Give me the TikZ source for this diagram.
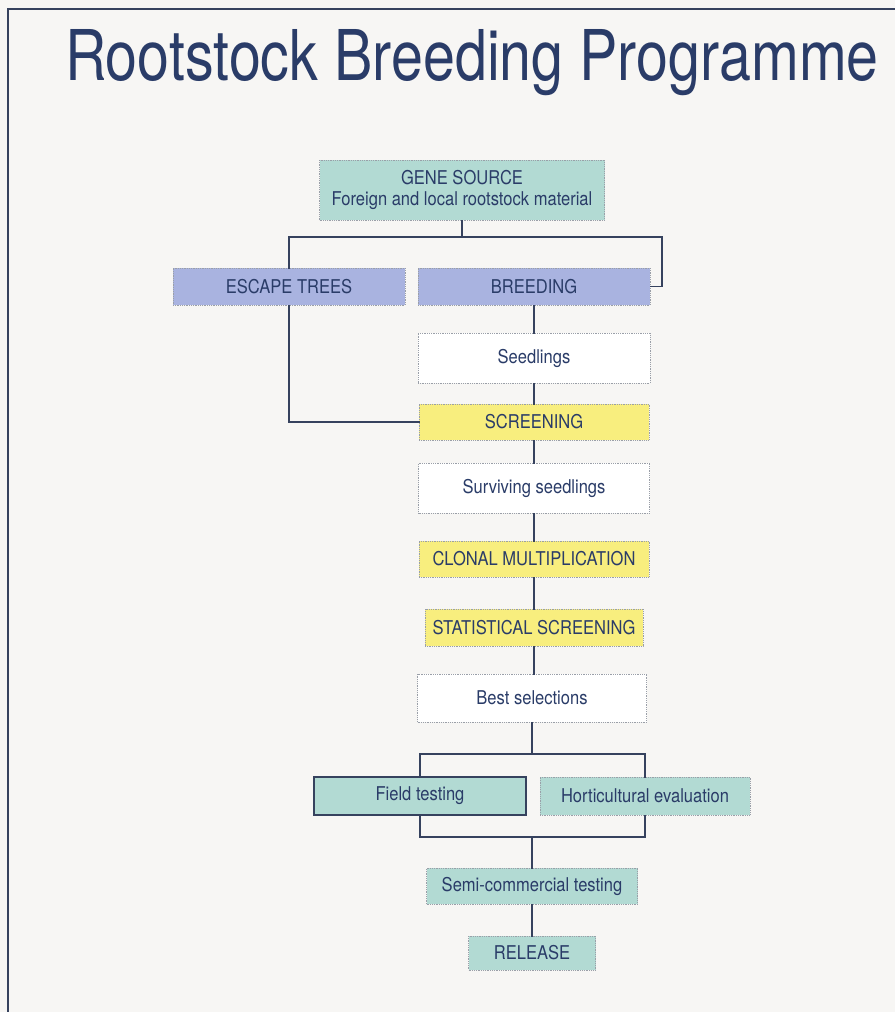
\documentclass[tikz,border=0pt]{standalone}
\usepackage{fontspec}
\setmainfont{TeX Gyre Heros}
\newfontfamily\boxfont[FakeStretch=0.87]{TeX Gyre Heros}
\newfontfamily\titlefont[FakeStretch=0.82]{TeX Gyre Heros}
\definecolor{ink}{HTML}{2A3C68}
\definecolor{wire}{HTML}{36425E}
\definecolor{paper}{HTML}{F7F6F4}
\definecolor{teal}{HTML}{B2DAD3}
\definecolor{lilac}{HTML}{A9B3E0}
\definecolor{lemon}{HTML}{F8EE7E}
\definecolor{edge}{HTML}{9A9FA8}
\tikzset{
  box/.style={draw=edge, densely dotted, line width=0.8pt, text=ink,
    inner sep=0pt, font=\boxfont\fontsize{19}{21}\selectfont, align=center},
  link/.style={draw=wire, line width=1.8pt, line cap=rect}
}
\begin{document}
\begin{tikzpicture}[x=1pt,y=-1pt]
  \useasboundingbox (0,0) rectangle (895,1012);
  \fill[paper] (0,0) rectangle (895,1012);
  % frame
  \draw[wire, line width=2pt] (8,1012) -- (8,9) -- (895,9);
  \node[anchor=base, text=ink, font=\titlefont\fontsize{70}{80}\selectfont] (title) at (472,80)
    {Rootstock Breeding Programme};
  % boxes
  \node[box, fill=teal, minimum width=285, minimum height=60] (gene) at (462,190)
    {GENE SOURCE\\Foreign and local rootstock material};
  \node[box, fill=lilac, minimum width=232, minimum height=37] (escape) at (289,286.5) {ESCAPE TREES};
  \node[box, fill=lilac, minimum width=232, minimum height=37] (breed) at (534,286.5) {BREEDING};
  \node[box, fill=white, minimum width=232, minimum height=50] (seed) at (534,358) {Seedlings};
  \node[box, fill=lemon, minimum width=230, minimum height=36] (screen) at (534,422) {SCREENING};
  \node[box, fill=white, minimum width=231, minimum height=50] (surv) at (534,488) {Surviving seedlings};
  \node[box, fill=lemon, minimum width=230, minimum height=36] (clonal) at (534,559) {CLONAL MULTIPLICATION};
  \node[box, fill=lemon, minimum width=218, minimum height=37] (stat) at (534,627.5) {STATISTICAL SCREENING};
  \node[box, fill=white, minimum width=229, minimum height=48] (best) at (532,698) {Best selections};
  \node[box, fill=teal, draw=wire, solid, line width=1.2pt, minimum width=212, minimum height=38] (field) at (420,796) {Field testing};
  \node[box, fill=teal, minimum width=210, minimum height=38] (hort) at (645,796) {Horticultural evaluation};
  \node[box, fill=teal, minimum width=211, minimum height=36] (semi) at (532,886) {Semi-commercial testing};
  \node[box, fill=teal, minimum width=127, minimum height=34] (release) at (532,953) {RELEASE};
  % junctions
  \coordinate (fork) at (462,237);
  \coordinate (turn) at (662,237);
  \coordinate (split) at (532,754);
  \coordinate (merge) at (532,837);
  % connectors
  \draw[link] (gene) -- (fork);
  \draw[link] (escape.north) |- (turn) |- (breed.east);
  \draw[link] (breed) -- (seed);
  \draw[link] (seed) -- (screen);
  \draw[link] (screen) -- (surv);
  \draw[link] (surv) -- (clonal);
  \draw[link] (clonal) -- (stat);
  \draw[link] (stat.south) -- (stat.south |- best.north);
  \draw[link] (escape.south) |- (screen.west);
  \draw[link] (best) -- (split);
  \draw[link] (field.north) |- (split) -| (hort.north);
  \draw[link] (field.south) |- (merge) -| (hort.south);
  \draw[link] (merge) -- (semi);
  \draw[link] (semi) -- (release);
\end{tikzpicture}
\end{document}
